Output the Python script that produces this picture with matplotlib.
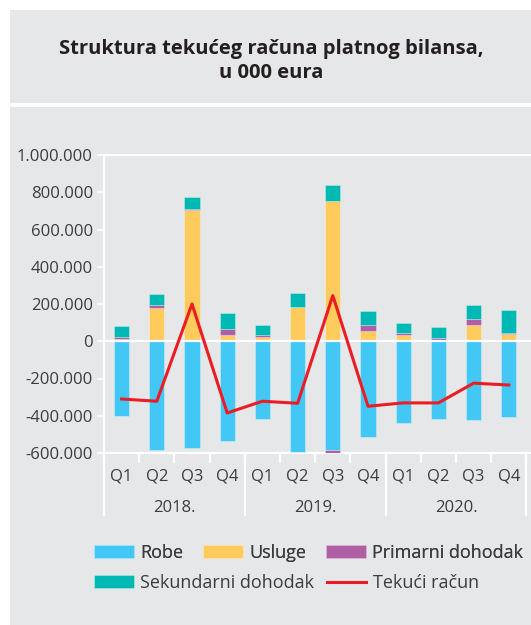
import numpy as np
import matplotlib.pyplot as plt
from matplotlib.patches import Rectangle
from matplotlib.ticker import FuncFormatter
import matplotlib.transforms as mtransforms

plt.rcParams['font.family'] = ['Open Sans', 'DejaVu Sans']

quarters = ["Q1", "Q2", "Q3", "Q4"] * 3
years = ["2018.", "2019.", "2020."]

# u 000 eura
robe = [-399000, -585000, -575000, -535000, -417000, -592000,
        -585000, -515000, -438000, -415000, -424000, -408000]
usluge = [12000, 179000, 707000, 36000, 21000, 184000,
          755000, 57000, 36000, 5000, 88000, 39000]
primarni = [13000, 14000, 2000, 30000, 13000, -5000,
            -18000, 30000, 7000, 15000, 32000, 4000]
sekundarni = [59000, 63000, 63000, 83000, 55000, 74000,
              82000, 75000, 57000, 59000, 73000, 123000]
tekuci = [-310000, -322000, 200000, -385000, -322000, -333000,
          245000, -349000, -331000, -331000, -225000, -235000]

bg = "#E6E7E8"
txt = "#3C3C3C"
c_robe = "#43C8F5"
c_usl = "#FFCB5D"
c_prim = "#B05FA5"
c_sek = "#00B8B4"
c_line = "#ED1C24"

W, H = 531, 625
fig = plt.figure(figsize=(W / 100, H / 100), dpi=100)
fig.patch.set_facecolor("white")
fig.patches.append(Rectangle((10 / W, 1 - 103 / H), 1, 93 / H, transform=fig.transFigure,
                             facecolor=bg, edgecolor="none", zorder=-10))
fig.patches.append(Rectangle((10 / W, 0), 1, 1 - 107 / H, transform=fig.transFigure,
                             facecolor=bg, edgecolor="none", zorder=-10))

fig.text(271 / W, 1 - 61 / H, "Struktura tekućeg računa platnog bilansa,\nu 000 eura",
         ha="center", va="center", fontsize=14.5, fontweight="bold", color="#231F20",
         linespacing=1.3)

ax = fig.add_axes([104 / W, 1 - 453 / H, (W - 104) / W, 298 / H])
ax.set_facecolor(bg)

x = np.arange(len(quarters))
bw = 0.43
pos_base = np.zeros(len(x))
neg_base = np.zeros(len(x))
series = [(robe, c_robe, "Robe"), (usluge, c_usl, "Usluge"),
          (primarni, c_prim, "Primarni dohodak"), (sekundarni, c_sek, "Sekundarni dohodak")]
handles = []
for vals, col, lab in series:
    v = np.array(vals, dtype=float)
    bottom = np.where(v >= 0, pos_base, neg_base)
    b = ax.bar(x, v, bw, bottom=bottom, color=col, label=lab, zorder=3,
               edgecolor=(1, 1, 1, 0.35), linewidth=0.6)
    handles.append(b)
    pos_base += np.where(v >= 0, v, 0)
    neg_base += np.where(v < 0, v, 0)

ln, = ax.plot(x, tekuci, color=c_line, lw=2.2, zorder=5, label="Tekući račun")

ax.set_xlim(-0.5, 11.63)
ax.set_ylim(-600000, 1000000)
ax.set_yticks(np.arange(-600000, 1000001, 200000))
ax.yaxis.set_major_formatter(FuncFormatter(lambda v, p: f"{int(v):,}".replace(",", ".")))
ax.axhline(0, color="white", lw=1.6, zorder=4)

ax.spines["right"].set_visible(False)
for s in ["left", "bottom", "top"]:
    ax.spines[s].set_color("white")
    ax.spines[s].set_linewidth(1.6)

ax.tick_params(axis="y", length=5, width=1.2, color="white", labelsize=12,
               labelcolor=txt, pad=3)
ax.set_xticks(x)
ax.set_xticklabels(quarters)
ax.tick_params(axis="x", length=0, labelsize=12, labelcolor=txt, pad=11)
ax.set_xticks(np.arange(-0.5, 12, 1), minor=True)
ax.tick_params(axis="x", which="minor", length=7, width=1.6, color="white")

trans = mtransforms.blended_transform_factory(ax.transData, ax.transAxes)
for b in [-0.5, 3.5, 7.5, 11.5]:
    ax.plot([b, b], [0, -0.208], transform=trans, color="white", lw=1.6, clip_on=False)
for i, yr in enumerate(years):
    ax.text(i * 4 + 1.5, -0.185, yr, transform=trans, ha="center", va="center",
            fontsize=12, color=txt)

leg_kw = dict(loc="center left", frameon=False, fontsize=13, handlelength=2.2,
              handleheight=0.75, handletextpad=0.35, borderpad=0, borderaxespad=0,
              labelcolor=txt)
leg1 = fig.legend(handles[:3], ["Robe", "Usluge", "Primarni dohodak"],
                  bbox_to_anchor=(94 / W, 1 - 553 / H), ncol=3, columnspacing=1.1, **leg_kw)
leg2 = fig.legend([handles[3], ln], ["Sekundarni dohodak", "Tekući račun"],
                  bbox_to_anchor=(94 / W, 1 - 583 / H), ncol=2, columnspacing=0.7, **leg_kw)
fig.add_artist(leg1)

fig.savefig("out.png", dpi=100, facecolor=fig.get_facecolor())
